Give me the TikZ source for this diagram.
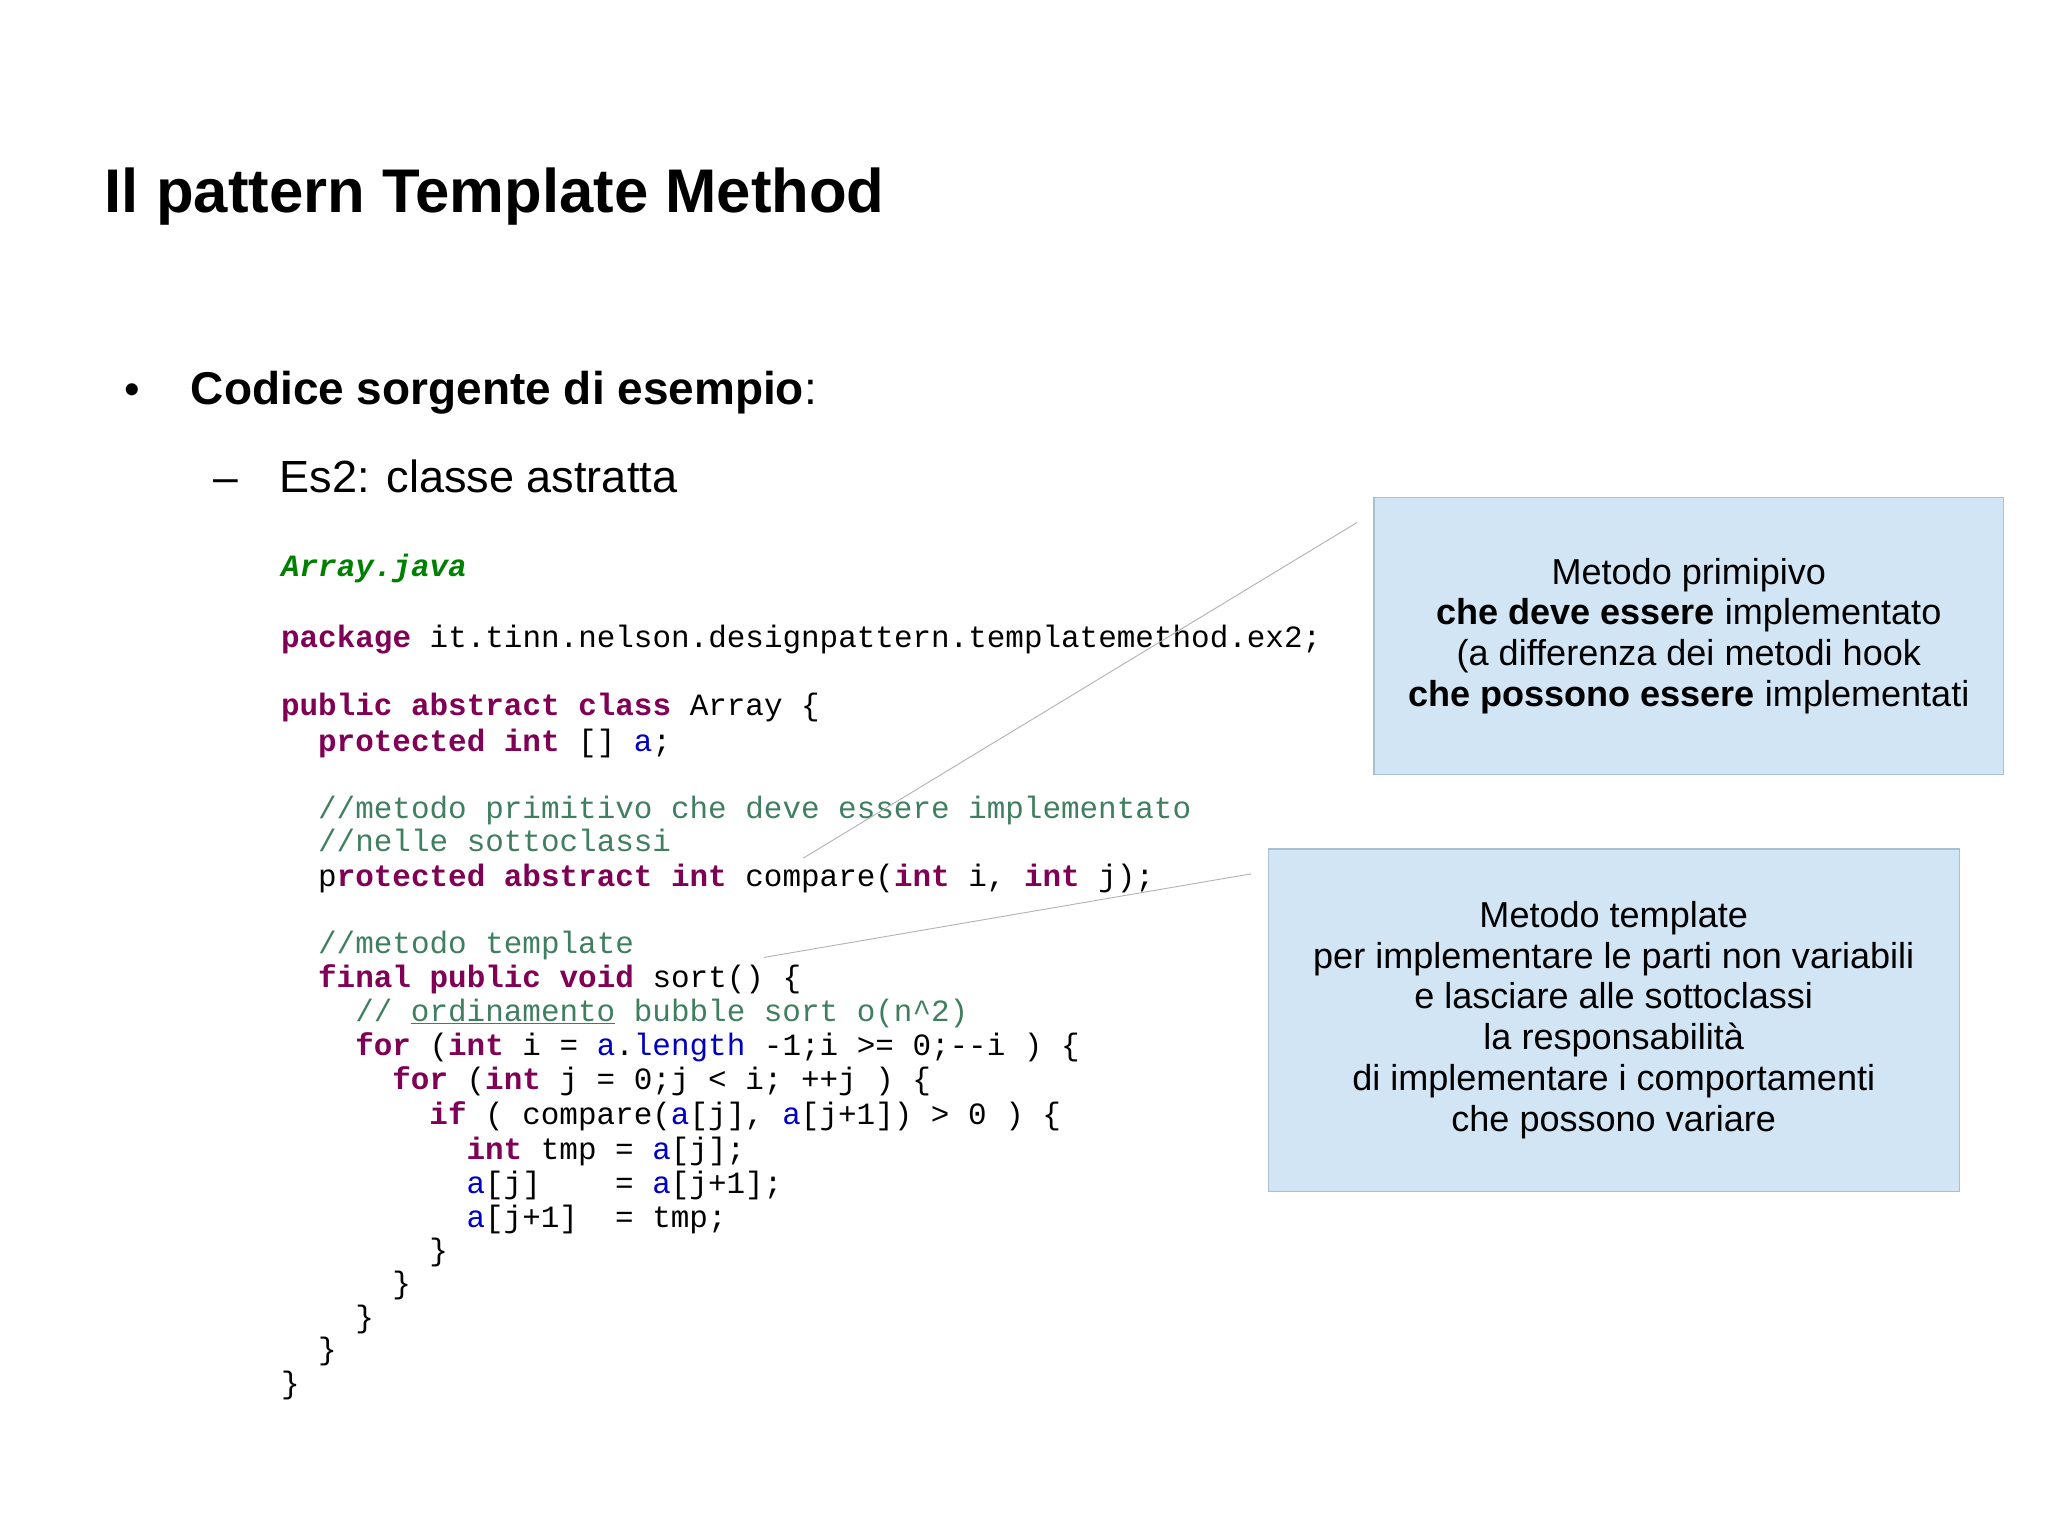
\documentclass[tikz,border=0pt]{standalone}
\usepackage{fontspec}
\setmainfont{Liberation Sans}
\setmonofont{Liberation Mono}
\definecolor{kw}{HTML}{7F0055}
\definecolor{cmc}{HTML}{3F7F5F}
\definecolor{fdc}{HTML}{0000C0}
\definecolor{fnc}{HTML}{008000}
\definecolor{boxfill}{HTML}{D2E5F5}
\definecolor{boxline}{HTML}{A9BFD2}
\newcommand\kw[1]{\textcolor{kw}{\bfseries #1}}
\newcommand\cm[1]{\textcolor{cmc}{#1}}
\newcommand\fd[1]{\textcolor{fdc}{#1}}
\begin{document}
\begin{tikzpicture}[x=1pt,y=-1pt,
  codeline/.style={anchor=base west,inner sep=0pt,font=\fontsize{23.7}{26}\ttfamily},
  infobox/.style={draw=boxline,fill=boxfill,line width=1pt,align=center,font=\fontsize{27.6}{31.3}\selectfont},
  callout/.style={draw=black!30,line width=0.7pt}]
\useasboundingbox (0,0) rectangle (1568,1175.3);
\node[anchor=base west,inner sep=0pt,font=\fontsize{47.2}{50}\bfseries] (title) at (80,163) {Il pattern Template Method};
\node[anchor=base west,inner sep=0pt,font=\fontsize{34}{40}\selectfont] (b1) at (95,310) {•};
\node[anchor=base west,inner sep=0pt,font=\fontsize{35.2}{40}\selectfont] (t1) at (146,310) {\textbf{Codice sorgente di esempio}:};
\node[anchor=base west,inner sep=0pt,font=\fontsize{34}{40}\selectfont] (b2) at (163,377) {–};
\node[anchor=base west,inner sep=0pt,font=\fontsize{34.5}{40}\selectfont] (t2) at (214,377) {Es2: classe astratta};
\def\cw{14.2}
\node[codeline] (c1) at (215,441) {\textcolor{fnc}{\bfseries\itshape Array.java}};
\node[codeline] (c2) at (215,496) {\kw{package} it.tinn.nelson.designpattern.templatemethod.ex2;};
\node[codeline] (c3) at (215,548) {\kw{public abstract class} Array \{};
\node[codeline] (c4) at (215+2*\cw,575) {\kw{protected int} [] \fd{a};};
\node[codeline] (c5) at (215+2*\cw,627) {\cm{//metodo primitivo che deve essere implementato}};
\node[codeline] (c6) at (215+2*\cw,652) {\cm{//nelle sottoclassi}};
\node[codeline] (c7) at (215+2*\cw,679) {p\kw{rotected abstract int} compare(\kw{int} i, \kw{int} j);};
\node[codeline] (c8) at (215+2*\cw,730) {\cm{//metodo template}};
\node[codeline] (c9) at (215+2*\cw,756) {\kw{final public void} sort() \{};
\node[codeline] (c10) at (215+4*\cw,782) {\cm{// \underline{ordinamento} bubble sort o(n\textasciicircum 2)}};
\node[codeline] (c11) at (215+4*\cw,808) {\kw{for} (\kw{int} i = \fd{a}.\fd{length} -1;i >= 0;-{}-i ) \{};
\node[codeline] (c12) at (215+6*\cw,834) {\kw{for} (\kw{int} j = 0;j < i; +{}+j ) \{};
\node[codeline] (c13) at (215+8*\cw,861) {\kw{if} ( compare(\fd{a}[j], \fd{a}[j+1]) > 0 ) \{};
\node[codeline] (c14) at (215+10*\cw,888) {\kw{int} tmp = \fd{a}[j];};
\node[codeline] (c15) at (215+10*\cw,914) {\fd{a}[j]~~~~= \fd{a}[j+1];};
\node[codeline] (c16) at (215+10*\cw,940) {\fd{a}[j+1]~~= tmp;};
\node[codeline] (c17) at (215+8*\cw,965) {\}};
\node[codeline] (c18) at (215+6*\cw,990) {\}};
\node[codeline] (c19) at (215+4*\cw,1016) {\}};
\node[codeline] (c20) at (215+2*\cw,1041) {\}};
\node[codeline] (c21) at (215,1067) {\}};
\node[infobox,minimum width=482pt,minimum height=212pt] (box1) at (1293,487) {Metodo primipivo\\\textbf{che deve essere} implementato\\(a differenza dei metodi hook\\\textbf{che possono essere} implementati};
\node[infobox,minimum width=529pt,minimum height=262pt] (box2) at (1235.5,781) {Metodo template\\per implementare le parti non variabili\\e lasciare alle sottoclassi\\la responsabilità\\di implementare i comportamenti\\che possono variare};
\coordinate (p1a) at (1039,400);
\coordinate (p1b) at (615,657);
\coordinate (p2a) at (958,669);
\coordinate (p2b) at (585,733);
\draw[callout] (p1a) -- (p1b);
\draw[callout] (p2a) -- (p2b);
\end{tikzpicture}
\end{document}
